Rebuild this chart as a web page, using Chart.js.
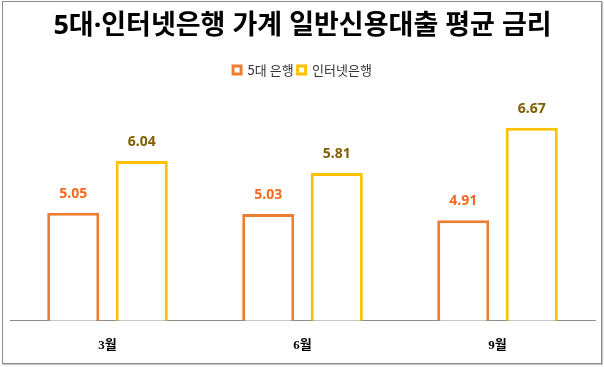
<!DOCTYPE html>
<html>
<head>
<meta charset="utf-8">
<script src="https://cdn.jsdelivr.net/npm/chart.js@4"></script>
<style>
  html, body { margin:0; padding:0; background:#fff; }
  #wrap { position:absolute; left:0; top:0; width:604px; height:367px; }
  #frame { position:absolute; left:2px; top:1px; width:600px; height:363px; box-sizing:border-box;
           border:1px solid #8a8a8a; box-shadow:1px 1px 1px #c8c8c8; pointer-events:none; }
</style>
</head>
<body>
<div id="wrap"><canvas id="c" width="604" height="367"></canvas></div>
<div id="frame"></div>
<script>
const categories = ['3월', '6월', '9월'];
const seriesNames = ['5대 은행', '인터넷은행'];
const bigFive = [5.05, 5.03, 4.91];
const internetBanks = [6.04, 5.81, 6.67];

const valueLabels = {
  id: 'valueLabels',
  afterDatasetsDraw(chart) {
    const ctx = chart.ctx;
    chart.data.datasets.forEach((ds, di) => {
      const meta = chart.getDatasetMeta(di);
      meta.data.forEach((el, i) => {
        ctx.save();
        ctx.font = 'bold 14px "Noto Sans", "Open Sans", sans-serif';
        ctx.fillStyle = ds.labelColor;
        ctx.textAlign = 'center';
        ctx.textBaseline = 'middle';
        ctx.fillText(ds.data[i].toFixed(2), el.x, el.y - 19);
        ctx.restore();
      });
    });
  }
};

new Chart(document.getElementById('c'), {
  type: 'bar',
  data: {
    labels: categories,
    datasets: [
      { label: seriesNames[0], data: bigFive, backgroundColor: '#ffffff', borderColor: '#ED7D31',
        borderWidth: 3, borderSkipped: false, labelColor: '#F7691E' },
      { label: seriesNames[1], data: internetBanks, backgroundColor: '#ffffff', borderColor: '#FFC000',
        borderWidth: 3, borderSkipped: false, labelColor: '#7F6000' }
    ]
  },
  options: {
    responsive: false,
    animation: false,
    devicePixelRatio: 1,
    layout: { padding: { top: 0, left: 10, right: 9, bottom: -3 } },
    datasets: { bar: { barPercentage: 0.76, categoryPercentage: 0.7026 } },
    plugins: {
      title: {
        display: true,
        text: '5대·인터넷은행 가계 일반신용대출 평균 금리',
        color: '#000000',
        font: { family: '"Noto Sans", "Noto Sans CJK KR", sans-serif', size: 27, weight: 'bold' },
        padding: { top: 10, bottom: 17 }
      },
      legend: {
        display: true,
        labels: {
          boxWidth: 8, boxHeight: 8, padding: 4, color: '#333333',
          font: { family: '"Noto Sans CJK KR", "Noto Sans", sans-serif', size: 13 }
        }
      },
      tooltip: { enabled: false }
    },
    scales: {
      x: {
        grid: { display: false, drawTicks: false },
        border: { display: true, color: '#8c8c8c', width: 1 },
        ticks: {
          padding: 17, color: '#000000',
          font: { family: '"Liberation Serif", "Noto Sans CJK KR", serif', size: 13, weight: 'bold' }
        }
      },
      y: { display: false, min: 3, max: 7.46 }
    }
  },
  plugins: [valueLabels]
});
</script>
</body>
</html>
